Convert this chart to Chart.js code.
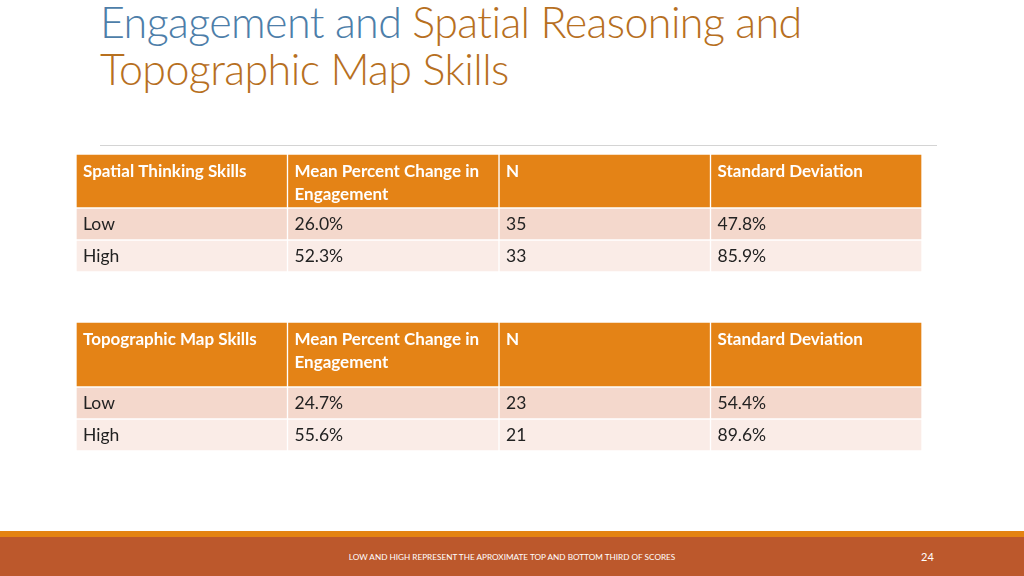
<!DOCTYPE html>
<html>
<head>
<meta charset="utf-8">
<script src="https://cdn.jsdelivr.net/npm/chart.js@4.4.1/dist/chart.umd.min.js"></script>
<style>
  body { margin: 0; width: 1024px; height: 576px; background: #fff; position: relative; overflow: hidden; font-family: Lato, 'Open Sans', sans-serif; }
  .title { position: absolute; left: 100px; top: -2px; font-size: 43px; font-weight: 300; line-height: 47px; color: #b7701f; letter-spacing: -0.6px; white-space: nowrap; }
  .title .blue { color: #4d7ea9; }
  .rule { position: absolute; left: 100px; top: 145px; width: 837px; height: 1px; background: #d4d4d4; }
  canvas { position: absolute; left: 76px; }
  .strip { position: absolute; left: 0; top: 531px; width: 1024px; height: 6px; background: #e48312; }
  .footer { position: absolute; left: 0; top: 537px; width: 1024px; height: 39px; background: #bc582c; }
  .note { position: absolute; left: 0; width: 1024px; top: 552px; text-align: center; color: #fff; font-size: 8.2px; }
  .page { position: absolute; left: 921px; top: 550px; color: #fff; font-size: 11px; }
</style>
</head>
<body>
<div class="title"><span class="blue">Engagement and</span> Spatial Reasoning and<br>Topographic Map Skills</div>
<div class="rule"></div>

<canvas id="head1" width="846" height="54" style="top:154px"></canvas>
<canvas id="body1" width="846" height="64" style="top:208px"></canvas>
<canvas id="head2" width="846" height="65" style="top:322px"></canvas>
<canvas id="body2" width="846" height="64" style="top:387px"></canvas>

<div class="strip"></div>
<div class="footer"></div>
<div class="note">LOW AND HIGH REPRESENT THE APROXIMATE TOP AND BOTTOM THIRD OF SCORES</div>
<div class="page">24</div>

<script>
// Table data
const headers1 = ['Spatial Thinking Skills', 'Mean Percent Change in Engagement', 'N', 'Standard Deviation']
const headers2 = ['Topographic Map Skills', 'Mean Percent Change in Engagement', 'N', 'Standard Deviation']
const groups = ['Low', 'High']
const meanChange1 = [26.0, 52.3]
const count1 = [35, 33]
const stdDev1 = [47.8, 85.9]
const meanChange2 = [24.7, 55.6]
const count2 = [23, 21]
const stdDev2 = [54.4, 89.6]

const pct = v => v.toFixed(1) + '%'
const bodyRows = (mean, count, sd) => groups.map((g, i) => [g, pct(mean[i]), String(count[i]), pct(sd[i])])

// Wrap text to a width
const wrap = (ctx, text, width) => {
  const lines = []
  let line = ''
  text.split(' ').forEach(word => {
    const test = line ? line + ' ' + word : word
    if (line && ctx.measureText(test).width > width) {
      lines.push(line)
      line = word
    } else {
      line = test
    }
  })
  lines.push(line)
  return lines
}

// Draw cell text on top of the bars
const cellText = {
  id: 'cellText',
  afterDatasetsDraw (chart, args, opts) {
    const ctx = chart.ctx
    const rows = opts.rows
    ctx.save()
    ctx.font = opts.font
    ctx.fillStyle = opts.color
    ctx.textBaseline = 'middle'
    chart.data.datasets.forEach((ds, c) => {
      const meta = chart.getDatasetMeta(c)
      meta.data.forEach((bar, r) => {
        const left = Math.min(bar.base, bar.x)
        const width = Math.abs(bar.x - bar.base)
        const lines = wrap(ctx, rows[r][c], width - 12)
        let y = opts.top ? bar.y - bar.height / 2 + opts.top : bar.y
        lines.forEach(line => {
          ctx.fillText(line, left + 7, y)
          y += opts.lineHeight
        })
      })
    })
    ctx.restore()
  }
}

// Render a table block as a horizontal floating bar chart
const tableChart = (id, rows, fills, text) => new Chart(document.getElementById(id), {
  type: 'bar',
  data: {
    labels: rows.map(r => r[0]),
    datasets: rows[0].map((_, c) => ({
      data: rows.map(() => [c, c + 1]),
      backgroundColor: fills,
      borderColor: '#ffffff',
      borderWidth: 1,
      borderSkipped: false,
      grouped: false,
      barPercentage: 1,
      categoryPercentage: 1
    }))
  },
  options: {
    indexAxis: 'y',
    responsive: false,
    animation: false,
    events: [],
    layout: { padding: 0 },
    scales: {
      x: { type: 'linear', min: 0, max: 4, display: false },
      y: { display: false }
    },
    plugins: {
      legend: { display: false },
      tooltip: { enabled: false },
      cellText: text
    }
  },
  plugins: [cellText]
})

const headText = { font: 'bold 17px Lato', color: '#ffffff', top: 18, lineHeight: 23 }
const bodyText = { font: '17.5px Lato', color: '#222222', lineHeight: 0 }

tableChart('head1', [headers1], ['#e48316'], { ...headText, rows: [headers1] })
tableChart('body1', bodyRows(meanChange1, count1, stdDev1), ['#f4d8cc', '#faece7'], { ...bodyText, rows: bodyRows(meanChange1, count1, stdDev1) })
tableChart('head2', [headers2], ['#e48316'], { ...headText, rows: [headers2] })
tableChart('body2', bodyRows(meanChange2, count2, stdDev2), ['#f4d8cc', '#faece7'], { ...bodyText, rows: bodyRows(meanChange2, count2, stdDev2) })
</script>
</body>
</html>
